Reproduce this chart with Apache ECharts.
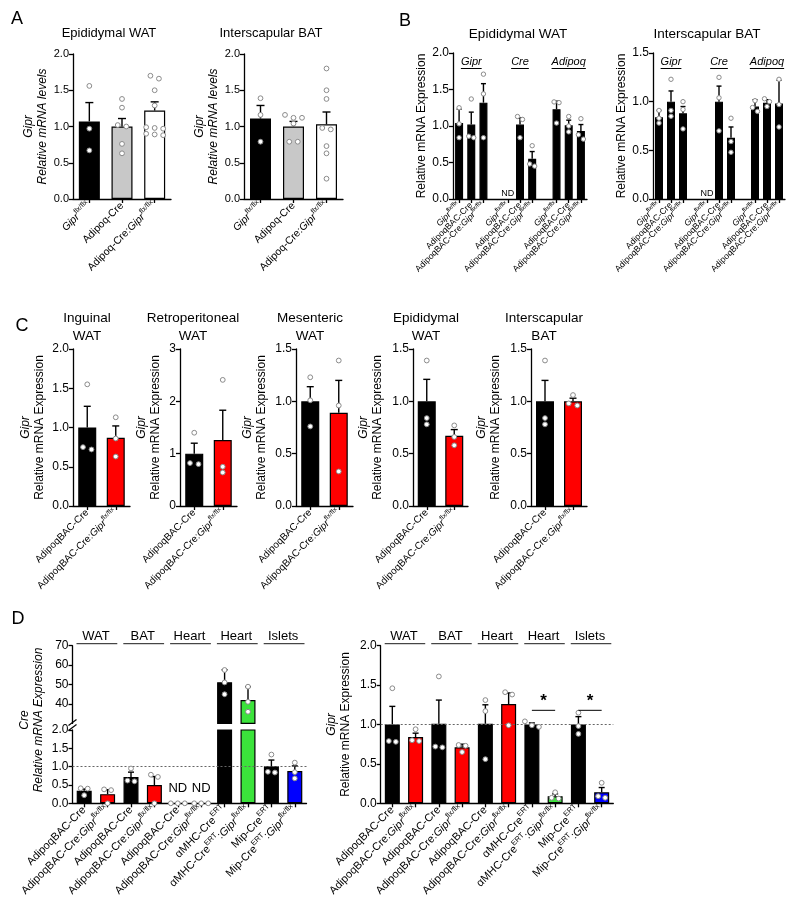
<!DOCTYPE html>
<html><head><meta charset="utf-8">
<script src="https://cdn.jsdelivr.net/npm/echarts@6/dist/echarts.min.js"></script>
<style>html,body{margin:0;padding:0;background:#fff}#c{width:800px;height:919px}</style>
</head><body><div id="c"></div>
<script>
// ================= DATA =================
// Panel A
const aCats = ['Gipr^{flx/flx}', 'Adipoq-Cre', 'Adipoq-Cre:Gipr^{flx/flx}'];
const aWatMean = [1.07, 1.00, 1.22];
const aWatSem = [0.26, 0.11, 0.12];
const aWatPts = [[1.56, 0.97, 0.67], [1.38, 1.26, 1.02, 1.00, 0.76, 0.63], [1.70, 1.66, 1.50, 1.29, 0.99, 0.98, 0.97, 0.90, 0.89, 0.88]];
const aBatMean = [1.11, 1.00, 1.03];
const aBatSem = [0.18, 0.07, 0.17];
const aBatPts = [[1.39, 1.16, 0.79], [1.16, 1.12, 1.12, 1.04, 0.79, 0.79], [1.80, 1.50, 1.38, 0.98, 0.96, 0.73, 0.63, 0.28]];

// Panel B
const bGroups = ['Gipr', 'Cre', 'Adipoq'];
const bCats = ['Gipr^{flx/flx}', 'AdipoqBAC-Cre', 'AdipoqBAC-Cre:Gipr^{flx/flx}'];
const bWatMean = [[1.04, 1.02, 1.32], [0, 1.02, 0.55], [1.23, 1.01, 0.93]];
const bWatSem = [[0.19, 0.17, 0.26], [0, 0.09, 0.10], [0.11, 0.07, 0.09]];
const bWatPts = [[[1.25, 1.03, 0.84], [1.37, 0.86, 0.84], [1.71, 1.44, 0.84]],
                 [[], [1.13, 1.09, 0.84], [0.73, 0.48, 0.45]],
                 [[1.33, 1.32, 1.04], [1.13, 1.00, 0.92], [1.10, 0.88, 0.82]]];
const bBatMean = [[0.84, 1.00, 0.88], [0, 1.00, 0.63], [0.95, 0.99, 0.98]];
const bBatSem = [[0.07, 0.11, 0.07], [0, 0.16, 0.11], [0.07, 0.03, 0.24]];
const bBatPts = [[[0.91, 0.83, 0.78], [1.23, 0.91, 0.85], [1.00, 0.92, 0.72]],
                 [[], [1.25, 1.04, 0.70], [0.83, 0.59, 0.48]],
                 [[1.01, 0.94, 0.90], [1.03, 1.00, 0.95], [1.23, 0.97, 0.74]]];

// Panel C
const cCats = ['AdipoqBAC-Cre', 'AdipoqBAC-Cre:Gipr^{flx/flx}'];
const cIngMean = [1.00, 0.87];
const cIngSem = [0.27, 0.15];
const cIngPts = [[1.55, 0.75, 0.72], [1.13, 0.86, 0.63]];
const cRetMean = [1.00, 1.26];
const cRetSem = [0.20, 0.57];
const cRetPts = [[1.40, 0.82, 0.80], [2.41, 0.75, 0.64]];
const cMesMean = [1.00, 0.89];
const cMesSem = [0.14, 0.31];
const cMesPts = [[1.23, 1.01, 0.76], [1.39, 0.96, 0.33]];
const cEpiMean = [1.00, 0.67];
const cEpiSem = [0.21, 0.06];
const cEpiPts = [[1.39, 0.84, 0.78], [0.77, 0.66, 0.58]];
const cBatMean = [1.00, 1.00];
const cBatSem = [0.20, 0.03];
const cBatPts = [[1.39, 0.84, 0.78], [1.06, 0.98, 0.96]];

// Panel D
const dCats = ['AdipoqBAC-Cre', 'AdipoqBAC-Cre:Gipr^{flx/flx}', 'AdipoqBAC-Cre', 'AdipoqBAC-Cre:Gipr^{flx/flx}',
               'AdipoqBAC-Cre', 'AdipoqBAC-Cre:Gipr^{flx/flx}', 'αMHC-Cre^{ERT}', 'αMHC-Cre^{ERT}:Gipr^{flx/flx}',
               'Mip-Cre^{ERT}', 'Mip-Cre^{ERT}:Gipr^{flx/flx}'];
const dTissues = ['WAT', 'BAT', 'Heart', 'Heart', 'Islets'];
const dCreMean = [0.34, 0.25, 0.72, 0.50, 0, 0, 51.2, 42.0, 1.01, 0.88];
const dCreSem = [0.05, 0.12, 0.13, 0.23, 0, 0, 6.4, 6.9, 0.17, 0.14];
const dCrePts = [[0.41, 0.40, 0.22], [0.38, 0.36, 0.0], [0.95, 0.62, 0.60], [0.78, 0.72, 0.0], [0, 0, 0], [0, 0, 0],
                 [57.5, 51.1, 45.0], [48.9, 41.1, 36.0], [1.33, 0.86, 0.84], [1.11, 0.85, 0.68]];
const dGiprMean = [1.00, 0.84, 1.01, 0.71, 1.01, 1.26, 1.00, 0.09, 1.00, 0.14];
const dGiprSem = [0.23, 0.05, 0.30, 0.04, 0.24, 0.14, 0.02, 0.03, 0.10, 0.06];
const dGiprPts = [[1.46, 0.79, 0.78], [0.94, 0.80, 0.79], [1.61, 0.72, 0.71], [0.74, 0.73, 0.65], [1.31, 1.17, 0.56],
                  [1.41, 1.38, 0.99], [1.04, 0.99, 0.97], [0.14, 0.07, 0.06], [1.15, 0.98, 0.88], [0.26, 0.09, 0.07]];
const dSigPairs = [[6, 7], [8, 9]];
const dSigLevel = 1.18;

// ================= STYLE / HELPERS =================
const FONT = 'Arial, "Liberation Sans", Helvetica, sans-serif';
const BLACK = '#000', GRAY = '#c8c8c8', WHITE = '#fff', RED = '#ff0000', GREEN = '#3be33b', BLUE = '#0000ff';
const _ctx = document.createElement('canvas').getContext('2d');
function measure(t, font) { _ctx.font = font; return _ctx.measureText(t).width; }

function richLabel(s) {
  if (!s) return '';
  return s.split(/(Gipr|\^\{[^}]*\})/).filter(t => t).map(t => {
    if (t === 'Gipr') return '{i|Gipr}';
    if (t.charAt(0) === '^') return '{s|' + t.slice(2, -1) + '}';
    return '{n|' + t + '}';
  }).join('');
}
function labelRich(fs) {
  return {
    n: {fontSize: fs, fontFamily: FONT, color: '#000', lineHeight: fs * 1.45, verticalAlign: 'middle'},
    i: {fontSize: fs, fontFamily: FONT, fontStyle: 'italic', color: '#000', lineHeight: fs * 1.45, verticalAlign: 'middle'},
    s: {fontSize: fs * 0.68, fontFamily: FONT, color: '#000', lineHeight: fs * 0.8, verticalAlign: 'top'}
  };
}
const nameRich = {
  i: {fontSize: 12, fontFamily: FONT, fontStyle: 'italic', color: '#000', lineHeight: 14},
  n: {fontSize: 12, fontFamily: FONT, color: '#000', lineHeight: 14}
};

function swarm(vals, pxPerUnit, step, thr) {
  const idx = vals.map((v, i) => i).sort((a, b) => vals[b] - vals[a]);
  const off = new Array(vals.length).fill(0);
  let row = [];
  const flush = () => { row.forEach((k, j) => { off[k] = (j - (row.length - 1) / 2) * step; }); row = []; };
  idx.forEach(k => {
    if (row.length && (vals[row[row.length - 1]] - vals[k]) * pxPerUnit > thr) flush();
    row.push(k);
  });
  flush();
  return off;
}

const option = {animation: false, textStyle: {fontFamily: FONT}, grid: [], xAxis: [], yAxis: [], series: [], graphic: []};

function addChart(c) {
  const gi = option.grid.length;
  option.grid.push(Object.assign({containLabel: false}, c.grid));
  const axisLine = {show: true, onZero: false, lineStyle: {color: '#000', width: 1.3}};
  option.xAxis.push({
    type: 'category', gridIndex: gi, data: c.cats,
    axisLine: c.hideX ? {show: false} : axisLine,
    axisTick: c.hideX ? {show: false} : {show: true, alignWithLabel: true, length: 4, lineStyle: {color: '#000', width: 1.3}, interval: (i, v) => v !== ''},
    axisLabel: c.hideX ? {show: false} : {interval: 0, rotate: 45, margin: c.labelMargin || 5, formatter: v => richLabel(v), rich: labelRich(c.labelFs)},
    splitLine: {show: false}
  });
  const y = {
    type: 'value', gridIndex: gi, min: c.yMin, max: c.yMax, interval: c.interval,
    axisLine: axisLine, axisTick: {show: true, length: 4, lineStyle: {color: '#000', width: 1.3}},
    splitLine: {show: false},
    axisLabel: {fontSize: c.tickFs, color: '#000', margin: 4, fontFamily: FONT, formatter: v => Number(v).toFixed(c.dec)}
  };
  if (c.yTicks) { y.axisLabel.customValues = c.yTicks; y.axisTick.customValues = c.yTicks; }
  if (c.yName) Object.assign(y, {name: c.yName, nameLocation: 'middle', nameRotate: 90, nameGap: c.nameGap, nameTextStyle: {lineHeight: 14, rich: nameRich}});
  option.yAxis.push(y);

  const pxPerUnit = c.grid.height / (c.yMax - c.yMin);
  const bar = {
    type: 'bar', xAxisIndex: gi, yAxisIndex: gi, barWidth: c.barWidth, silent: true, z: 2,
    itemStyle: {borderColor: '#000', borderWidth: 1.2},
    data: c.means.map((v, i) => {
      if (typeof v !== 'number' || v < c.yMin) return '-';
      const item = {value: v, itemStyle: {color: c.colors[i]}};
      if (v === 0 && c.nd) {
        item.label = {show: true, position: 'top', formatter: 'ND', fontSize: c.nd.fs, distance: c.nd.dist, color: '#000', fontFamily: FONT};
        item.itemStyle.borderWidth = 0;
      }
      return item;
    })
  };
  if (c.refLine) bar.markLine = {silent: true, symbol: 'none', label: {show: false}, lineStyle: {type: [2, 2], color: '#666', width: 1}, data: [{yAxis: 1}]};
  option.series.push(bar);

  // error bars (upper SEM)
  const errData = [];
  c.means.forEach((m, i) => { if (typeof m === 'number' && c.sems[i] > 0) errData.push([i, m, c.sems[i]]); });
  option.series.push({
    type: 'custom', xAxisIndex: gi, yAxisIndex: gi, silent: true, z: 4, encode: {x: 0, y: 1}, data: errData,
    renderItem: (params, api) => {
      const m = api.value(1), s = api.value(2);
      if (m > c.yMax || m + s < c.yMin) return null;
      const x = api.value(0);
      const p0 = api.coord([x, Math.max(m, c.yMin)]);
      const p1 = api.coord([x, m + s]);
      return {type: 'group', children: [
        {type: 'line', shape: {x1: p0[0], y1: p0[1], x2: p1[0], y2: p1[1]}, style: {stroke: '#000', lineWidth: 1.4}},
        {type: 'line', shape: {x1: p1[0] - c.cap, y1: p1[1], x2: p1[0] + c.cap, y2: p1[1]}, style: {stroke: '#000', lineWidth: 1.4}}
      ]};
    }
  });

  // individual points
  const ptData = [];
  c.pts.forEach((arr, ci) => {
    if (!arr || !arr.length) return;
    const off = swarm(arr, pxPerUnit, c.step, 4.5);
    arr.forEach((v, j) => ptData.push([ci, v, off[j]]));
  });
  option.series.push({
    type: 'custom', xAxisIndex: gi, yAxisIndex: gi, silent: true, z: 5, encode: {x: 0, y: 1}, data: ptData,
    renderItem: (params, api) => {
      const v = api.value(1);
      if (v < c.yMin - 1e-9 || v > c.yMax + 1e-9) return null;
      const p = api.coord([api.value(0), v]);
      return {type: 'circle', shape: {cx: p[0] + api.value(2), cy: p[1], r: c.r}, style: {fill: '#fff', stroke: '#8a8a8a', lineWidth: 1}};
    }
  });
  return gi;
}

function txt(text, x, y, font, extra) {
  return Object.assign({type: 'text', x: x, y: y, silent: true,
    style: {text: text, font: font, fill: '#000', align: 'center', verticalAlign: 'middle', textAlign: 'center', textVerticalAlign: 'middle'}}, extra || {});
}

// ================= PANEL A =================
const colA = [BLACK, GRAY, WHITE];
addChart({grid: {left: 73, top: 54, width: 98, height: 145}, cats: aCats, means: aWatMean, sems: aWatSem, pts: aWatPts, colors: colA,
  yMin: 0, yMax: 2, interval: 0.5, dec: 1, yName: '{i|Gipr}\n{i|Relative mRNA levels}', nameGap: 23,
  labelFs: 10.5, tickFs: 11, barWidth: 21, step: 8.5, cap: 4, r: 2.4});
addChart({grid: {left: 244, top: 54, width: 99, height: 145}, cats: aCats, means: aBatMean, sems: aBatSem, pts: aBatPts, colors: colA,
  yMin: 0, yMax: 2, interval: 0.5, dec: 1, yName: '{i|Gipr}\n{i|Relative mRNA levels}', nameGap: 22,
  labelFs: 10.5, tickFs: 11, barWidth: 21, step: 8.5, cap: 4, r: 2.4});

// ================= PANEL B =================
function flatGroups(groups, blank) {
  const out = [];
  groups.forEach((g, k) => { if (k > 0) out.push(blank); g.forEach(v => out.push(v)); });
  return out;
}
const bCatsAll = flatGroups([bCats, bCats, bCats], '');
const bMid = bGroups.map((g, k) => k * (bCats.length + 1) + 1);
function bHeaders(gi) {
  option.series.push({
    type: 'custom', xAxisIndex: gi, yAxisIndex: gi, silent: true, z: 6, encode: {x: 0, y: 1},
    data: bMid.map((m, k) => [m, 0, k]),
    renderItem: (params, api) => {
      const label = bGroups[api.value(2)];
      const p = api.coord([api.value(0), 0]);
      const cs = params.coordSys;
      const font = 'italic 11px ' + FONT;
      const w = measure(label, font);
      const y = cs.y + 9;
      return {type: 'group', children: [
        {type: 'text', style: {text: label, x: p[0], y: y, font: font, fill: '#000', align: 'center', verticalAlign: 'middle'}},
        {type: 'line', shape: {x1: p[0] - w / 2, y1: y + 6.5, x2: p[0] + w / 2, y2: y + 6.5}, style: {stroke: '#000', lineWidth: 1}}
      ]};
    }
  });
}
const colB = bCatsAll.map(() => BLACK);
const gB1 = addChart({grid: {left: 453, top: 53, width: 134, height: 146}, cats: bCatsAll,
  means: flatGroups(bWatMean, '-'), sems: flatGroups(bWatSem, 0), pts: flatGroups(bWatPts, []), colors: colB,
  yMin: 0, yMax: 2, interval: 0.5, dec: 1, yName: '{n|Relative mRNA Expression}', nameGap: 21,
  labelFs: 8.7, tickFs: 12, barWidth: 8, step: 5, cap: 2.5, r: 2.2, nd: {fs: 9, dist: 1}});
bHeaders(gB1);
const gB2 = addChart({grid: {left: 653, top: 53, width: 132, height: 146}, cats: bCatsAll,
  means: flatGroups(bBatMean, '-'), sems: flatGroups(bBatSem, 0), pts: flatGroups(bBatPts, []), colors: colB,
  yMin: 0, yMax: 1.5, interval: 0.5, dec: 1, yName: '{n|Relative mRNA Expression}', nameGap: 16,
  labelFs: 8.7, tickFs: 12, barWidth: 8, step: 5, cap: 2.5, r: 2.2, nd: {fs: 9, dist: 1}});
bHeaders(gB2);

// ================= PANEL C =================
const colC = [BLACK, RED];
const cCommon = {cats: cCats, colors: colC, yMin: 0, labelFs: 10, tickFs: 12, barWidth: 18, step: 8.5, cap: 3.5, r: 2.4,
  yName: '{i|Gipr}\n{n|Relative mRNA Expression}'};
addChart(Object.assign({}, cCommon, {grid: {left: 73, top: 349, width: 57, height: 157}, means: cIngMean, sems: cIngSem, pts: cIngPts, yMax: 2, interval: 0.5, dec: 1, nameGap: 26}));
addChart(Object.assign({}, cCommon, {grid: {left: 180, top: 349, width: 57, height: 157}, means: cRetMean, sems: cRetSem, pts: cRetPts, yMax: 3, interval: 1, dec: 0, nameGap: 17}));
addChart(Object.assign({}, cCommon, {grid: {left: 296, top: 349, width: 57, height: 157}, means: cMesMean, sems: cMesSem, pts: cMesPts, yMax: 1.5, interval: 0.5, dec: 1, nameGap: 27}));
addChart(Object.assign({}, cCommon, {grid: {left: 413, top: 349, width: 55, height: 157}, means: cEpiMean, sems: cEpiSem, pts: cEpiPts, yMax: 1.5, interval: 0.5, dec: 1, nameGap: 28}));
addChart(Object.assign({}, cCommon, {grid: {left: 531, top: 349, width: 56, height: 157}, means: cBatMean, sems: cBatSem, pts: cBatPts, yMax: 1.5, interval: 0.5, dec: 1, nameGap: 28}));

// ================= PANEL D =================
const colD = [BLACK, RED, BLACK, RED, BLACK, RED, BLACK, GREEN, BLACK, BLUE];
const dCommon = {cats: dCats, colors: colD, labelFs: 11, tickFs: 12, barWidth: 15, step: 7, cap: 3, r: 2.4};
function dHeaders(gi) {
  option.series.push({
    type: 'custom', xAxisIndex: gi, yAxisIndex: gi, silent: true, z: 6, encode: {x: 0, y: 1},
    data: dTissues.map((t, k) => [2 * k, 2 * k + 1, k]),
    renderItem: (params, api) => {
      const label = dTissues[api.value(2)];
      const yv = option.yAxis[gi].max;
      const a = api.coord([api.value(0), yv]);
      const b = api.coord([api.value(1), yv]);
      const bw = api.size([1, 0])[0];
      const cs = params.coordSys;
      const y = cs.y - 9;
      return {type: 'group', children: [
        {type: 'text', style: {text: label, x: (a[0] + b[0]) / 2, y: y, font: '13px ' + FONT, fill: '#000', align: 'center', verticalAlign: 'middle'}},
        {type: 'line', shape: {x1: a[0] - bw / 2 + 4, y1: cs.y - 2, x2: b[0] + bw / 2 - 2, y2: cs.y - 2}, style: {stroke: '#000', lineWidth: 0.9}}
      ]};
    }
  });
}
// left: broken axis (upper and lower segments)
const gDU = addChart(Object.assign({}, dCommon, {grid: {left: 72.5, top: 645.7, width: 234, height: 77.7}, hideX: true,
  means: dCreMean, sems: dCreSem, pts: dCrePts, yMin: 30, yMax: 70, interval: 10, yTicks: [40, 50, 60, 70], dec: 0}));
dHeaders(gDU);
const gDL = addChart(Object.assign({}, dCommon, {grid: {left: 72.5, top: 730, width: 234, height: 73.3},
  means: dCreMean, sems: dCreSem, pts: dCrePts, yMin: 0, yMax: 2, interval: 0.5, dec: 1, refLine: true, nd: {fs: 13, dist: 8}}));
// right
const gDR = addChart(Object.assign({}, dCommon, {grid: {left: 380.7, top: 645.7, width: 232.6, height: 157.6},
  means: dGiprMean, sems: dGiprSem, pts: dGiprPts, yMin: 0, yMax: 2, interval: 0.5, dec: 1, refLine: true,
  yName: '{i|Gipr}\n{n|Relative mRNA Expression}', nameGap: 28}));
dHeaders(gDR);
option.series.push({
  type: 'custom', xAxisIndex: gDR, yAxisIndex: gDR, silent: true, z: 6, encode: {x: 0, y: 1},
  data: dSigPairs.map(p => [p[0], dSigLevel, p[1]]),
  renderItem: (params, api) => {
    const a = api.coord([api.value(0), api.value(1)]);
    const b = api.coord([api.value(2), api.value(1)]);
    return {type: 'group', children: [
      {type: 'line', shape: {x1: a[0], y1: a[1], x2: b[0], y2: b[1]}, style: {stroke: '#000', lineWidth: 1}},
      {type: 'text', style: {text: '*', x: (a[0] + b[0]) / 2, y: a[1] - 1, font: 'bold 17px ' + FONT, fill: '#000', align: 'center', verticalAlign: 'bottom'}}
    ]};
  }
});

// ================= TEXT DECORATIONS =================
const G = option.graphic;
G.push(txt('A', 17, 19, '18px ' + FONT));
G.push(txt('B', 405, 21, '18px ' + FONT));
G.push(txt('C', 22, 326, '18px ' + FONT));
G.push(txt('D', 18, 619, '18px ' + FONT));
G.push(txt('Epididymal WAT', 109, 33, '13px ' + FONT));
G.push(txt('Interscapular BAT', 271, 33, '13px ' + FONT));
G.push(txt('Epididymal WAT', 518, 34, '13.5px ' + FONT));
G.push(txt('Interscapular BAT', 707, 34, '13.5px ' + FONT));
[['Inguinal', 'WAT', 87], ['Retroperitoneal', 'WAT', 193], ['Mesenteric', 'WAT', 310], ['Epididymal', 'WAT', 426], ['Interscapular', 'BAT', 544]]
  .forEach(t => { G.push(txt(t[0], t[2], 318, '13.5px ' + FONT)); G.push(txt(t[1], t[2], 336, '13.5px ' + FONT)); });
// D-left y-axis title spanning both segments
G.push({type: 'text', x: 32, y: 720, rotation: Math.PI / 2, silent: true,
  style: {text: '{i|Cre}\n{i|Relative mRNA Expression}', rich: {i: {font: 'italic 12px ' + FONT, lineHeight: 14, fill: '#000'}},
    align: 'center', verticalAlign: 'middle'}});
// axis break marks
G.push({type: 'line', silent: true, shape: {x1: 68.5, y1: 725.5, x2: 76.5, y2: 719.5}, style: {stroke: '#000', lineWidth: 1.2}});
G.push({type: 'line', silent: true, shape: {x1: 68.5, y1: 730.5, x2: 76.5, y2: 724.5}, style: {stroke: '#000', lineWidth: 1.2}});

const chart = echarts.init(document.getElementById('c'), null, {renderer: 'canvas'});
chart.setOption(option);
</script>
</body></html>
